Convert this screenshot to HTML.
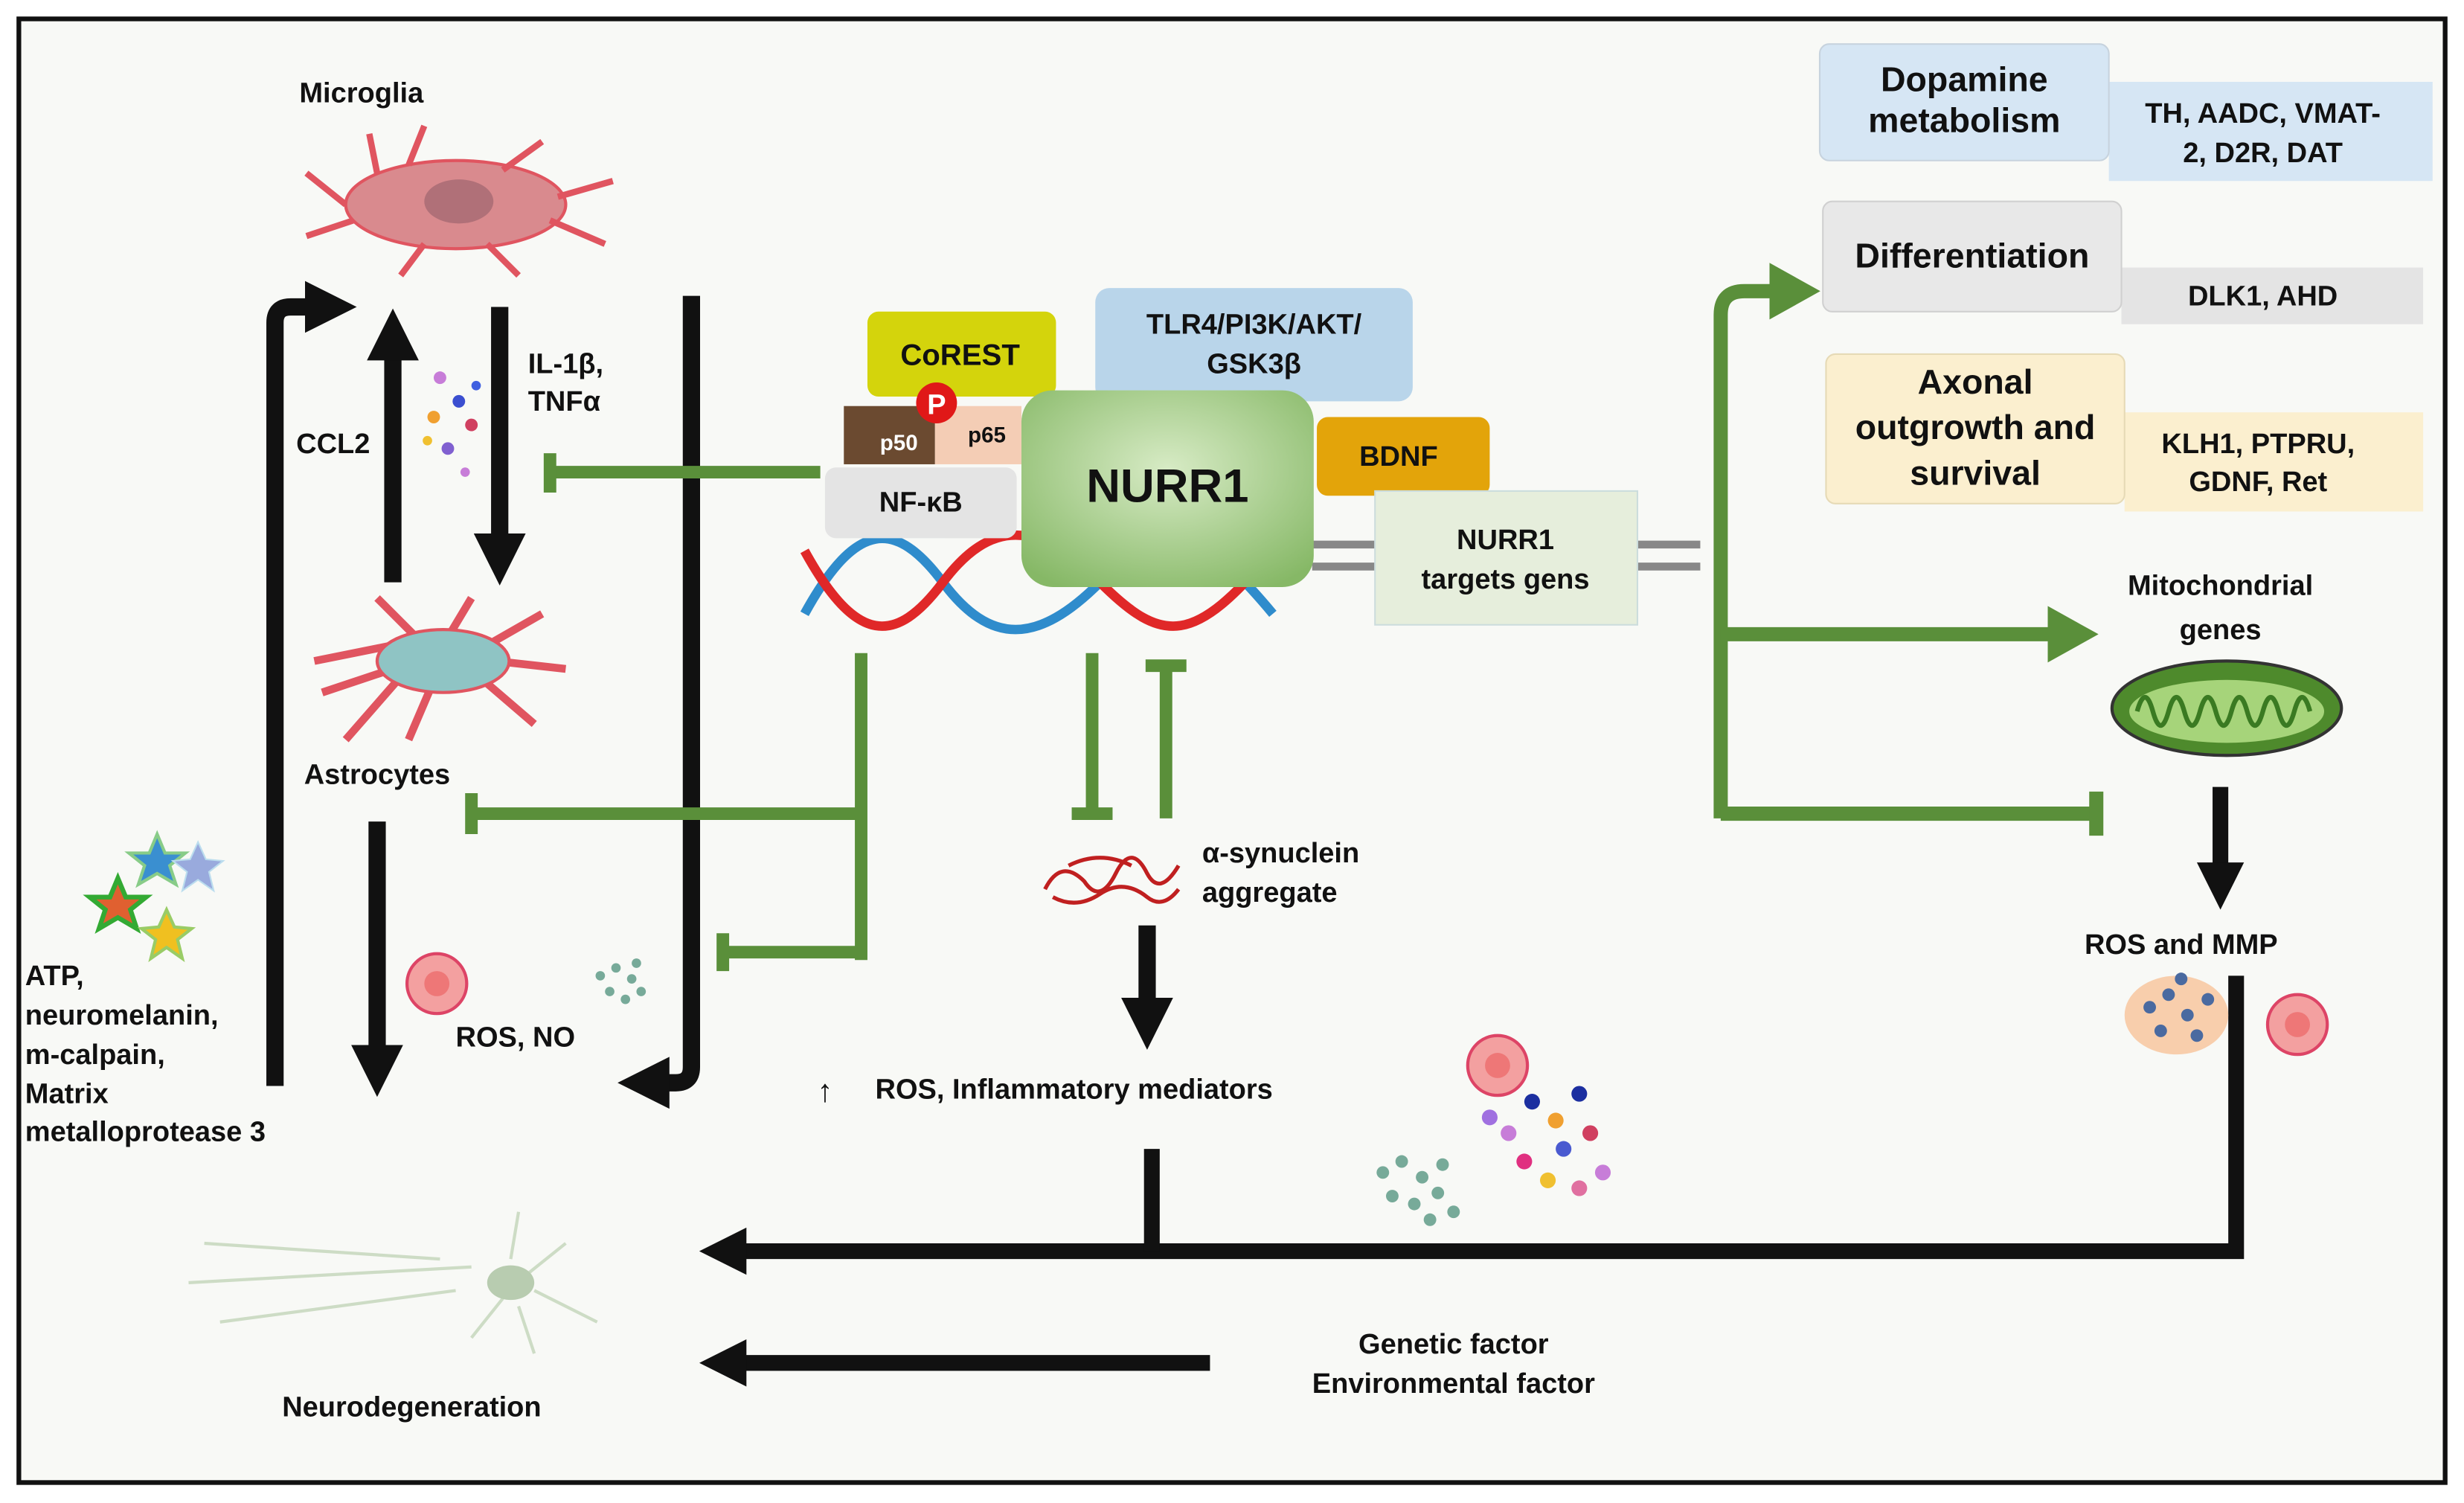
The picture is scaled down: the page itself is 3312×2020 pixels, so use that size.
<!DOCTYPE html>
<html><head><meta charset="utf-8"><style>
html,body{margin:0;padding:0;background:#fff}
svg{display:block}
text{font-family:"Liberation Sans",Arial,sans-serif;font-weight:bold;fill:#111}
</style></head><body>
<svg width="3312" height="2020" viewBox="0 0 1568 955" preserveAspectRatio="none" xmlns="http://www.w3.org/2000/svg">
<defs>
<marker id="ab" markerWidth="3" markerHeight="3" refX="1" refY="1.5" orient="auto" markerUnits="strokeWidth"><path d="M0,0 L3,1.5 L0,3 z" fill="#111"/></marker>
<marker id="ag" markerWidth="3.6" markerHeight="4" refX="1" refY="2" orient="auto" markerUnits="strokeWidth"><path d="M0,0 L3.6,2 L0,4 z" fill="#5a8f3a"/></marker>
<radialGradient id="nr" cx="0.5" cy="0.4" r="0.7"><stop offset="0" stop-color="#d7ebc5"/><stop offset="1" stop-color="#86b866"/></radialGradient>
</defs>
<rect x="0" y="0" width="1568" height="955" fill="#fff"/>
<rect x="12" y="12" width="1544" height="930" fill="#f8f9f6" stroke="#111" stroke-width="3"/>

<text x="230" y="65" font-size="18" text-anchor="middle">Microglia</text>
<g fill="#d98a8e" stroke="#e05560" stroke-width="2">
<ellipse cx="290" cy="130" rx="70" ry="28"/>
<path d="M220,130 L195,110 M225,140 L195,150 M240,110 L235,85 M260,105 L270,80 M320,108 L345,90 M355,125 L390,115 M350,140 L385,155 M310,155 L330,175 M270,155 L255,175" fill="none" stroke-width="4"/>
</g>
<ellipse cx="292" cy="128" rx="22" ry="14" fill="#b07078"/>

<g stroke="#e05560" stroke-width="5" fill="none">
<path d="M200,420 L250,410 M205,440 L250,425 M240,380 L265,405 M300,380 L285,405 M345,390 L310,410 M360,425 L315,420 M340,460 L305,430 M260,470 L275,435 M220,470 L255,430"/>
</g>
<ellipse cx="282" cy="420" rx="42" ry="20" fill="#8fc4c4" stroke="#e05560" stroke-width="2"/>
<text x="240" y="498" font-size="18" text-anchor="middle">Astrocytes</text>

<g>
<circle cx="280" cy="240" r="4" fill="#c77dd8"/><circle cx="292" cy="255" r="4" fill="#3b4fd0"/><circle cx="276" cy="265" r="4" fill="#f0a030"/><circle cx="300" cy="270" r="4" fill="#d04060"/><circle cx="285" cy="285" r="4" fill="#8060d0"/><circle cx="296" cy="300" r="3" fill="#c77dd8"/><circle cx="272" cy="280" r="3" fill="#f0c030"/><circle cx="303" cy="245" r="3" fill="#4060e0"/>
</g>

<g stroke="#111" stroke-width="11" fill="none">
<path d="M175,690 L175,205 Q175,195 185,195 L205,195" marker-end="url(#ab)"/>
<path d="M250,370 L250,218" marker-end="url(#ab)"/>
<path d="M318,195 L318,350" marker-end="url(#ab)"/>
<path d="M440,188 L440,678 Q440,688 430,688 L415,688" marker-end="url(#ab)"/>
<path d="M240,522 L240,675" marker-end="url(#ab)"/>
</g>
<text x="212" y="288" font-size="18" text-anchor="middle">CCL2</text>
<text x="336" y="237" font-size="18">IL-1β,</text>
<text x="336" y="261" font-size="18">TNFα</text>

<g>
<polygon points="100,530 105,542 118,542 108,550 112,562 100,555 88,562 92,550 82,542 95,542" fill="#3a8fd0" stroke="#8c8" stroke-width="2"/>
<polygon points="126,535 131,546 142,547 133,554 136,566 126,559 116,566 119,554 110,547 121,546" fill="#9ad" stroke="#bde" />
<polygon points="75,558 80,570 93,570 83,578 87,590 75,583 63,590 67,578 57,570 70,570" fill="#e06030" stroke="#3a3" stroke-width="3"/>
<polygon points="106,578 111,589 122,590 113,597 116,609 106,602 96,609 99,597 90,590 101,589" fill="#f0c020" stroke="#9c6" stroke-width="2"/>
</g>
<g font-size="18">
<text x="16" y="626">ATP,</text>
<text x="16" y="651">neuromelanin,</text>
<text x="16" y="676">m-calpain,</text>
<text x="16" y="701">Matrix</text>
<text x="16" y="725">metalloprotease 3</text>
</g>
<circle cx="278" cy="625" r="19" fill="#f3a0a0" stroke="#d46" stroke-width="2"/><circle cx="278" cy="625" r="8" fill="#e77"/>
<g fill="#7a9"><circle cx="382" cy="620" r="3"/><circle cx="392" cy="615" r="3"/><circle cx="402" cy="622" r="3"/><circle cx="388" cy="630" r="3"/><circle cx="398" cy="635" r="3"/><circle cx="408" cy="630" r="3"/><circle cx="405" cy="612" r="3"/></g>
<text x="290" y="665" font-size="18">ROS, NO</text>

<g stroke="#5a8f3a" stroke-width="8" fill="none">
<path d="M522,300 L352,300"/><path d="M350,288 L350,313"/>
<path d="M548,415 L548,610"/>
<path d="M548,517 L302,517"/><path d="M300,504 L300,530"/>
<path d="M548,605 L462,605"/><path d="M460,593 L460,617"/>
<path d="M695,415 L695,515"/><path d="M682,517 L708,517"/>
<path d="M742,520 L742,425"/><path d="M729,423 L755,423"/>
</g>

<g fill="none" stroke-width="6">
<path d="M512,390 C545,330 570,330 600,370 S660,410 700,370 S760,330 810,390" stroke="#2f8ccc"/>
<path d="M512,350 C545,410 570,410 600,370 S660,330 700,370 S760,410 810,350" stroke="#e02828"/>
</g>
<g stroke="#888" stroke-width="5"><line x1="835" y1="346" x2="1082" y2="346"/><line x1="835" y1="360" x2="1082" y2="360"/></g>

<rect x="552" y="198" width="120" height="54" rx="7" fill="#d4d40c"/>
<text x="611" y="232" font-size="19" text-anchor="middle">CoREST</text>
<rect x="697" y="183" width="202" height="72" rx="9" fill="#b9d5ea"/>
<text x="798" y="212" font-size="18" text-anchor="middle">TLR4/PI3K/AKT/</text>
<text x="798" y="237" font-size="18" text-anchor="middle">GSK3β</text>
<rect x="537" y="258" width="58" height="37" fill="#6b4a30"/>
<rect x="595" y="258" width="55" height="37" fill="#f4cdb5"/>
<text x="572" y="286" font-size="14" text-anchor="middle" style="fill:#fff">p50</text>
<text x="628" y="281" font-size="14" text-anchor="middle">p65</text>
<circle cx="596" cy="256" r="13" fill="#e01818"/>
<text x="596" y="263" font-size="18" text-anchor="middle" style="fill:#fff">P</text>
<rect x="525" y="297" width="122" height="45" rx="7" fill="#e4e4e4"/>
<text x="586" y="325" font-size="18" text-anchor="middle">NF-κB</text>
<rect x="838" y="265" width="110" height="50" rx="7" fill="#e3a40a"/>
<text x="890" y="296" font-size="18" text-anchor="middle">BDNF</text>
<rect x="650" y="248" width="186" height="125" rx="20" fill="url(#nr)"/>
<text x="743" y="319" font-size="30" text-anchor="middle">NURR1</text>
<rect x="875" y="312" width="167" height="85" fill="#e6eedc" stroke="#cdd" />
<text x="958" y="349" font-size="18" text-anchor="middle">NURR1</text>
<text x="958" y="374" font-size="18" text-anchor="middle">targets gens</text>

<g fill="none" stroke="#c02020" stroke-width="2.5">
<path d="M665,565 q10,-20 25,-5 q10,15 20,-5 q10,-20 20,0 q8,15 20,-5 M670,570 q15,8 30,-2 q15,-10 30,2 q10,8 20,-5 M680,550 q20,-10 40,0"/>
</g>
<text x="765" y="548" font-size="18">α-synuclein</text>
<text x="765" y="573" font-size="18">aggregate</text>
<path d="M730,588 L730,645" stroke="#111" stroke-width="11" marker-end="url(#ab)"/>
<text x="520" y="700" font-size="20">↑</text>
<text x="557" y="698" font-size="18">ROS, Inflammatory mediators</text>

<circle cx="953" cy="677" r="19" fill="#f3a0a0" stroke="#d46" stroke-width="2"/><circle cx="953" cy="677" r="8" fill="#e77"/>
<g><circle cx="960" cy="720" r="5" fill="#c77dd8"/><circle cx="975" cy="700" r="5" fill="#1c2fa0"/><circle cx="990" cy="712" r="5" fill="#f0a030"/><circle cx="1005" cy="695" r="5" fill="#1c2fa0"/><circle cx="1012" cy="720" r="5" fill="#d04060"/><circle cx="995" cy="730" r="5" fill="#4a5ad0"/><circle cx="970" cy="738" r="5" fill="#e03080"/><circle cx="1020" cy="745" r="5" fill="#c77dd8"/><circle cx="985" cy="750" r="5" fill="#f0c030"/><circle cx="948" cy="710" r="5" fill="#a070e0"/><circle cx="1005" cy="755" r="5" fill="#e070a0"/></g>
<g fill="#7a9"><circle cx="880" cy="745" r="4"/><circle cx="892" cy="738" r="4"/><circle cx="905" cy="748" r="4"/><circle cx="918" cy="740" r="4"/><circle cx="886" cy="760" r="4"/><circle cx="900" cy="765" r="4"/><circle cx="915" cy="758" r="4"/><circle cx="925" cy="770" r="4"/><circle cx="910" cy="775" r="4"/></g>

<g stroke="#111" stroke-width="10" fill="none">
<path d="M1423,620 L1423,795 L465,795" marker-end="url(#ab)"/>
<path d="M733,730 L733,795"/>
<path d="M770,866 L465,866" marker-end="url(#ab)"/>
</g>
<text x="925" y="860" font-size="18" text-anchor="middle">Genetic factor</text>
<text x="925" y="885" font-size="18" text-anchor="middle">Environmental factor</text>

<g stroke="#c8d8c0" stroke-width="2" fill="none" opacity="0.9">
<path d="M120,815 L300,805 M130,790 L280,800 M140,840 L290,820 M330,770 L325,800 M360,790 L335,810 M380,840 L340,820 M300,850 L320,825 M340,860 L330,830"/>
</g>
<ellipse cx="325" cy="815" rx="15" ry="11" fill="#b8ccb0"/>
<text x="262" y="900" font-size="18" text-anchor="middle">Neurodegeneration</text>

<g stroke="#5a8f3a" stroke-width="9" fill="none">
<path d="M1095,520 L1095,200 Q1095,185 1110,185 L1135,185" marker-end="url(#ag)"/>
<path d="M1095,403 L1312,403" marker-end="url(#ag)"/>
<path d="M1095,517 L1332,517"/><path d="M1334,503 L1334,531"/>
</g>

<rect x="1342" y="52" width="206" height="63" fill="#d6e6f4"/>
<text x="1440" y="78" font-size="18" text-anchor="middle">TH, AADC,  VMAT-</text>
<text x="1440" y="103" font-size="18" text-anchor="middle">2, D2R, DAT</text>
<rect x="1158" y="28" width="184" height="74" rx="6" fill="#d6e6f4" stroke="#c7d3de"/>
<text x="1250" y="58" font-size="22" text-anchor="middle">Dopamine</text>
<text x="1250" y="84" font-size="22" text-anchor="middle">metabolism</text>
<rect x="1350" y="170" width="192" height="36" fill="#e4e4e4"/>
<text x="1440" y="194" font-size="18" text-anchor="middle">DLK1, AHD</text>
<rect x="1160" y="128" width="190" height="70" rx="6" fill="#e8e8e8" stroke="#d0d0d0"/>
<text x="1255" y="170" font-size="22" text-anchor="middle">Differentiation</text>
<rect x="1352" y="262" width="190" height="63" fill="#fbefcf"/>
<text x="1437" y="288" font-size="18" text-anchor="middle">KLH1, PTPRU,</text>
<text x="1437" y="312" font-size="18" text-anchor="middle">GDNF, Ret</text>
<rect x="1162" y="225" width="190" height="95" rx="6" fill="#fbefcf" stroke="#e6dab6"/>
<text x="1257" y="250" font-size="22" text-anchor="middle">Axonal</text>
<text x="1257" y="279" font-size="22" text-anchor="middle">outgrowth and</text>
<text x="1257" y="308" font-size="22" text-anchor="middle">survival</text>

<text x="1413" y="378" font-size="18" text-anchor="middle">Mitochondrial</text>
<text x="1413" y="406" font-size="18" text-anchor="middle">genes</text>
<ellipse cx="1417" cy="450" rx="73" ry="30" fill="#4e8a2c" stroke="#333" stroke-width="2"/>
<ellipse cx="1417" cy="452" rx="62" ry="20" fill="#a6d47a"/>
<path d="M1360,452 q5,-18 10,0 q5,18 10,0 q5,-18 10,0 q5,18 10,0 q5,-18 10,0 q5,18 10,0 q5,-18 10,0 q5,18 10,0 q5,-18 10,0 q5,18 10,0 q5,-18 10,0" fill="none" stroke="#3a7a22" stroke-width="3"/>
<path d="M1413,500 L1413,558" stroke="#111" stroke-width="10" marker-end="url(#ab)"/>
<text x="1388" y="606" font-size="18" text-anchor="middle">ROS and MMP</text>
<ellipse cx="1385" cy="645" rx="33" ry="25" fill="#f7c39a" opacity="0.8"/>
<g fill="#4a6aa0"><circle cx="1368" cy="640" r="4"/><circle cx="1380" cy="632" r="4"/><circle cx="1392" cy="645" r="4"/><circle cx="1405" cy="635" r="4"/><circle cx="1375" cy="655" r="4"/><circle cx="1398" cy="658" r="4"/><circle cx="1388" cy="622" r="4"/></g>
<circle cx="1462" cy="651" r="19" fill="#f3a0a0" stroke="#d46" stroke-width="2"/><circle cx="1462" cy="651" r="8" fill="#e77"/>
</svg>
</body></html>
